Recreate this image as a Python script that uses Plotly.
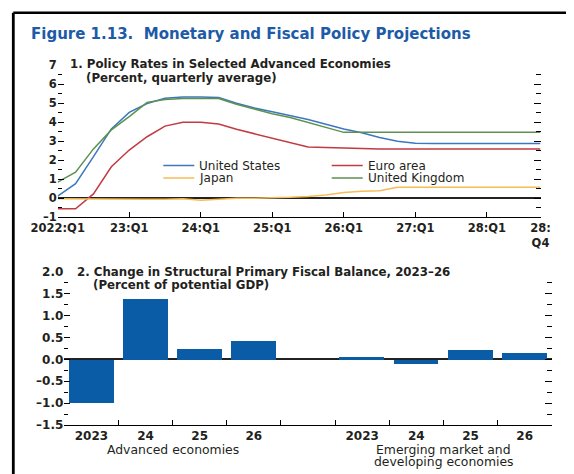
import plotly.graph_objects as go

# panel 1: policy rates, quarterly average (percent)
quarters = [f"{y}:Q{q}" for y in range(2022, 2029) for q in range(1, 5)]
us = [0.12, 0.77, 2.19, 3.65, 4.52, 4.99, 5.26, 5.33,
      5.33, 5.30, 5.00, 4.75, 4.55, 4.35, 4.15, 3.90,
      3.65, 3.45, 3.20, 3.00, 2.90, 2.88, 2.88, 2.88,
      2.88, 2.88, 2.88, 2.88]
euro = [-0.55, -0.55, 0.23, 1.66, 2.54, 3.24, 3.80, 4.00,
        4.00, 3.91, 3.63, 3.40, 3.20, 2.95, 2.70, 2.68,
        2.65, 2.62, 2.60, 2.60, 2.60, 2.60, 2.60, 2.60,
        2.60, 2.60, 2.60, 2.60]
japan = [-0.03, -0.04, -0.05, -0.05, -0.05, -0.05, -0.05, -0.03,
         -0.10, -0.05, 0.00, 0.00, 0.02, 0.05, 0.10, 0.18,
         0.30, 0.37, 0.40, 0.58, 0.58, 0.58, 0.58, 0.58,
         0.58, 0.58, 0.58, 0.58]
uk = [0.85, 1.37, 2.60, 3.60, 4.30, 5.05, 5.20, 5.25,
      5.25, 5.25, 4.95, 4.70, 4.45, 4.25, 4.00, 3.75,
      3.47, 3.47, 3.47, 3.47, 3.47, 3.47, 3.47, 3.47,
      3.47, 3.47, 3.47, 3.47]
series_names = ["United States", "Euro area", "Japan", "United Kingdom"]
series_colors = ["#3B78BE", "#C23A42", "#F6BC55", "#5E9150"]
rate_tickvals = ["2022:Q1", "2023:Q1", "2024:Q1", "2025:Q1", "2026:Q1",
                 "2027:Q1", "2028:Q1", "2028:Q4"]
rate_ticktext = ["2022:Q1", "23:Q1", "24:Q1", "25:Q1", "26:Q1",
                 "27:Q1", "28:Q1", "28:<br>Q4"]
rate_yvals = [-1, 0, 1, 2, 3, 4, 5, 6, 7]
rate_ytext = ["\u20131", "0", "1", "2", "3", "4", "5", "6", "7"]

# panel 2: change in structural primary fiscal balance (percent of potential GDP)
fiscal_years = ["2023", "24", "25", "26"]
adv_balance = [-1.00, 1.38, 0.24, 0.43]
emde_balance = [0.07, -0.10, 0.23, 0.16]
group_labels = [["Advanced economies"],
                ["Emerging market and", "developing economies"]]
fiscal_yvals = [-1.5, -1.0, -0.5, 0.0, 0.5, 1.0, 1.5, 2.0]
fiscal_ytext = ["\u20131.5", "\u20131.0", "\u20130.5", "0.0", "0.5", "1.0", "1.5", "2.0"]

W, H = 574, 474
OFF = 8  # page body margin: figure lands 8px right/down
FONT = "DejaVu Sans"
INK = "#231F20"
BLUE_TITLE = "#1D5BA7"
BAR = "#0B5CA7"


def px(x):
    return (x - OFF) / W


def py(y):
    return 1 - (y - OFF) / H


fig = go.Figure()

for name, vals, col in zip(series_names, [us, euro, japan, uk], series_colors):
    fig.add_trace(go.Scatter(x=quarters, y=vals, mode="lines", name=name,
                             line=dict(color=col, width=1.5),
                             xaxis="x", yaxis="y", showlegend=False))

# bars: advanced in slots 0-3, one empty slot, then EMDEs
adv_x = list(range(len(fiscal_years)))
emde_x = [i + len(fiscal_years) + 1 for i in range(len(fiscal_years))]
fig.add_trace(go.Bar(x=adv_x, y=adv_balance, width=0.83, marker_color=BAR,
                     marker_line_width=0, xaxis="x2", yaxis="y3", showlegend=False))
fig.add_trace(go.Bar(x=emde_x, y=emde_balance, width=0.83, marker_color=BAR,
                     marker_line_width=0, xaxis="x2", yaxis="y3", showlegend=False))
# invisible helpers so the mirrored tick axes get drawn
fig.add_trace(go.Scatter(x=[quarters[0]], y=[0], mode="none", xaxis="x", yaxis="y2",
                         showlegend=False, hoverinfo="skip"))
fig.add_trace(go.Scatter(x=[0], y=[0], mode="none", xaxis="x2", yaxis="y4",
                         showlegend=False, hoverinfo="skip"))

tick_font = dict(family=FONT, size=11.5, color=INK, weight="bold")

top_dom_y = [py(217.3), py(65.3)]
bot_dom_y = [py(425.0), py(271.7)]

fig.update_layout(
    width=W, height=H,
    margin=dict(l=0, r=0, t=0, b=0, autoexpand=False),
    paper_bgcolor="white", plot_bgcolor="white",
    showlegend=False,
    bargap=0,
    xaxis=dict(
        domain=[px(57.7), px(540.5)], anchor="y", automargin=False,
        type="category", categoryorder="array", categoryarray=quarters,
        range=[0, len(quarters) - 1],
        tickmode="array", tickvals=rate_tickvals, ticktext=rate_ticktext,
        ticks="inside", ticklen=5, tickwidth=1, tickcolor="black",
        showline=True, linecolor="black", linewidth=1,
        showgrid=False, zeroline=False, tickfont=tick_font,
    ),
    yaxis=dict(
        domain=top_dom_y, anchor="x", range=[-1, 7], automargin=False,
        tickmode="array", tickvals=rate_yvals, ticktext=rate_ytext,
        ticks="inside", ticklen=6, tickwidth=1, tickcolor="black",
        minor=dict(dtick=0.5, tick0=0, ticks="inside", ticklen=4, tickcolor="black", showgrid=False),
        showline=False, showgrid=False,
        zeroline=True, zerolinecolor="#222222", zerolinewidth=1.5,
        tickfont=tick_font,
    ),
    yaxis2=dict(
        overlaying="y", anchor="x", side="right", range=[-1, 7], automargin=False,
        tickmode="array", tickvals=rate_yvals, showticklabels=False,
        ticks="inside", ticklen=7, tickwidth=1, tickcolor="black",
        minor=dict(dtick=0.5, tick0=0, ticks="inside", ticklen=5, tickcolor="black", showgrid=False),
        showline=False, showgrid=False, zeroline=False,
    ),
    xaxis2=dict(
        domain=[px(64.3), px(551.7)], anchor="y3", automargin=False,
        range=[-0.5, len(adv_x) + len(emde_x) + 0.5],
        tickmode="array", tickvals=adv_x + emde_x, ticktext=fiscal_years + fiscal_years,
        ticks="",
        minor=dict(tickmode="array", tickvals=[v + 0.5 for v in range(len(adv_x) + len(emde_x))],
                   ticks="inside", ticklen=5, tickwidth=1, tickcolor="black", showgrid=False),
        showline=True, linecolor="black", linewidth=1,
        showgrid=False, zeroline=False,
        tickfont=dict(family=FONT, size=12, color=INK, weight="bold"),
    ),
    yaxis3=dict(
        domain=bot_dom_y, anchor="x2", range=[-1.5, 2.0], automargin=False,
        tickmode="array", tickvals=fiscal_yvals, ticktext=fiscal_ytext,
        ticks="inside", ticklen=6, tickwidth=1, tickcolor="black",
        minor=dict(dtick=0.25, tick0=0, ticks="inside", ticklen=4, tickcolor="black", showgrid=False),
        showline=False, showgrid=False,
        zeroline=True, zerolinecolor="#222222", zerolinewidth=1.5,
        tickfont=dict(family=FONT, size=12, color=INK, weight="bold"),
    ),
    yaxis4=dict(
        overlaying="y3", anchor="x2", side="right", range=[-1.5, 2.0], automargin=False,
        tickmode="array", tickvals=fiscal_yvals, showticklabels=False,
        ticks="inside", ticklen=7, tickwidth=1, tickcolor="black",
        minor=dict(dtick=0.25, tick0=0, ticks="inside", ticklen=5, tickcolor="black", showgrid=False),
        showline=False, showgrid=False, zeroline=False,
    ),
)

# outer frame (top and left edges)
fig.add_shape(type="line", xref="paper", yref="paper", x0=px(13.3), x1=1, y0=py(12.8), y1=py(12.8),
              line=dict(color="black", width=2.5))
fig.add_shape(type="line", xref="paper", yref="paper", x0=px(13.3), x1=px(13.3), y0=py(12.8), y1=0,
              line=dict(color="black", width=2.8))


def text(x, y, s, size, bold=True, color=INK, xanchor="left", xref="paper"):
    fig.add_annotation(x=x, y=y, xref=xref, yref="paper", text=s, showarrow=False,
                       xanchor=xanchor, yanchor="middle",
                       font=dict(family=FONT, size=size, color=color,
                                 weight="bold" if bold else "normal"))


text(px(29), py(34), "Figure 1.13.\u00a0 Monetary and Fiscal Policy Projections", 15, color=BLUE_TITLE)
text(px(68), py(64), "1. Policy Rates in Selected Advanced Economies", 11.8)
text(px(84), py(78), "(Percent, quarterly average)", 11.8)
text(px(75), py(271.7), "2. Change in Structural Primary Fiscal Balance, 2023\u201326", 11.8)
text(px(91), py(284.5), "(Percent of potential GDP)", 11.8)

# legend drawn by hand to match the tight row spacing
legend_cols = [163.3, 331.7]
legend_rows = [165.5, 178.0]
for i, (name, col) in enumerate(zip(series_names, series_colors)):
    lx = legend_cols[i % 2]
    ly = legend_rows[i // 2]
    fig.add_shape(type="line", xref="paper", yref="paper", x0=px(lx), x1=px(lx + 31),
                  y0=py(ly), y1=py(ly), line=dict(color=col, width=1.5))
    text(px(lx + 34), py(ly), name, 12, bold=False)

# group labels under the bars
group_centers = [sum(adv_x) / len(adv_x), sum(emde_x) / len(emde_x)]
for cx, lines in zip(group_centers, group_labels):
    for j, line in enumerate(lines):
        text(cx, py(449.3 + 12.4 * j), line, 12.4, bold=False, xanchor="center", xref="x2")

fig.write_html("out.html")
